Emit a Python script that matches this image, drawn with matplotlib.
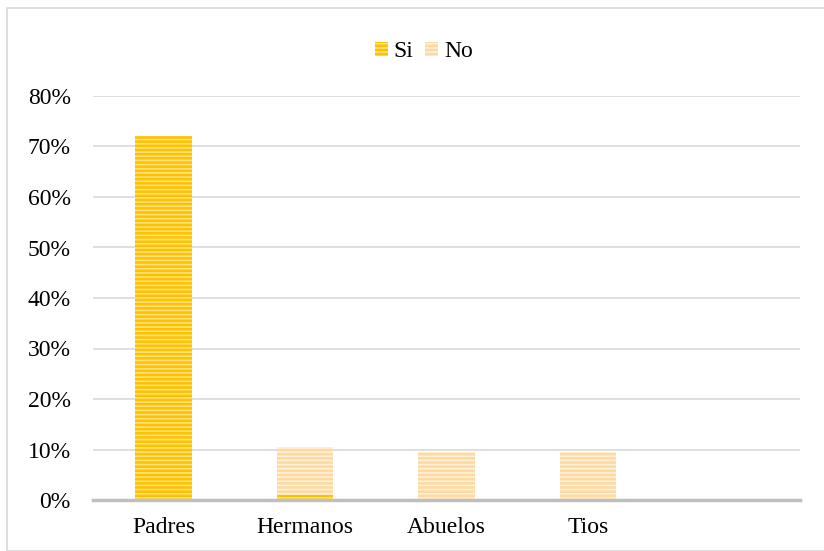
import numpy as np
import matplotlib.pyplot as plt
from matplotlib.patches import Rectangle

categorias = ["Padres", "Hermanos", "Abuelos", "Tios", ""]
si = [72.0, 1.0, 0.0, 0.0, 0.0]
no = [0.0, 9.5, 9.5, 9.5, 0.0]
yticks = [0, 10, 20, 30, 40, 50, 60, 70, 80]

plt.rcParams['font.family'] = ['Liberation Serif', 'DejaVu Serif']
plt.rcParams['hatch.linewidth'] = 1.2

fig = plt.figure(figsize=(8.24, 5.51), dpi=100)
fig.patches.append(Rectangle((7/824, 0), 1, 1 - 8/551, transform=fig.transFigure,
                             fill=False, edgecolor='#d9d9d9', linewidth=1.2))
ax = fig.add_axes([93/824, 51/551, 707/824, 404/551])

x = np.arange(len(categorias))
w = 0.4
ax.bar(x, si, w, color='#ffc000', edgecolor='#ffe27a', linewidth=0, hatch='----', label='Si')
ax.bar(x, no, w, bottom=si, color='#fed9a0', edgecolor='#fff0d8', linewidth=0, hatch='----', label='No')

ax.set_xlim(-0.5, len(categorias) - 0.5)
ax.set_ylim(0, 80)
ax.set_yticks(yticks)
ax.set_yticklabels([f"{v}%" for v in yticks])
ax.set_xticks(x)
ax.set_xticklabels(categorias)
ax.tick_params(length=0, labelsize=17, colors='black')
ax.tick_params(axis='y', pad=16)
ax.tick_params(axis='x', pad=12)
ax.grid(axis='y', color='#d9d9d9', linewidth=1.2)
ax.set_axisbelow(True)
for s in ['top', 'left', 'right']:
    ax.spines[s].set_visible(False)
ax.spines['bottom'].set_color('#bfbfbf')
ax.spines['bottom'].set_linewidth(2.5)
ax.spines['bottom'].set_zorder(5)

fig.legend(loc='upper center', bbox_to_anchor=(424/824, 1 - 20/551), ncol=2, frameon=False,
           fontsize=17, handlelength=0.55, handleheight=0.55, handletextpad=0.25,
           columnspacing=0.5)

fig.savefig("out.png", dpi=100)
